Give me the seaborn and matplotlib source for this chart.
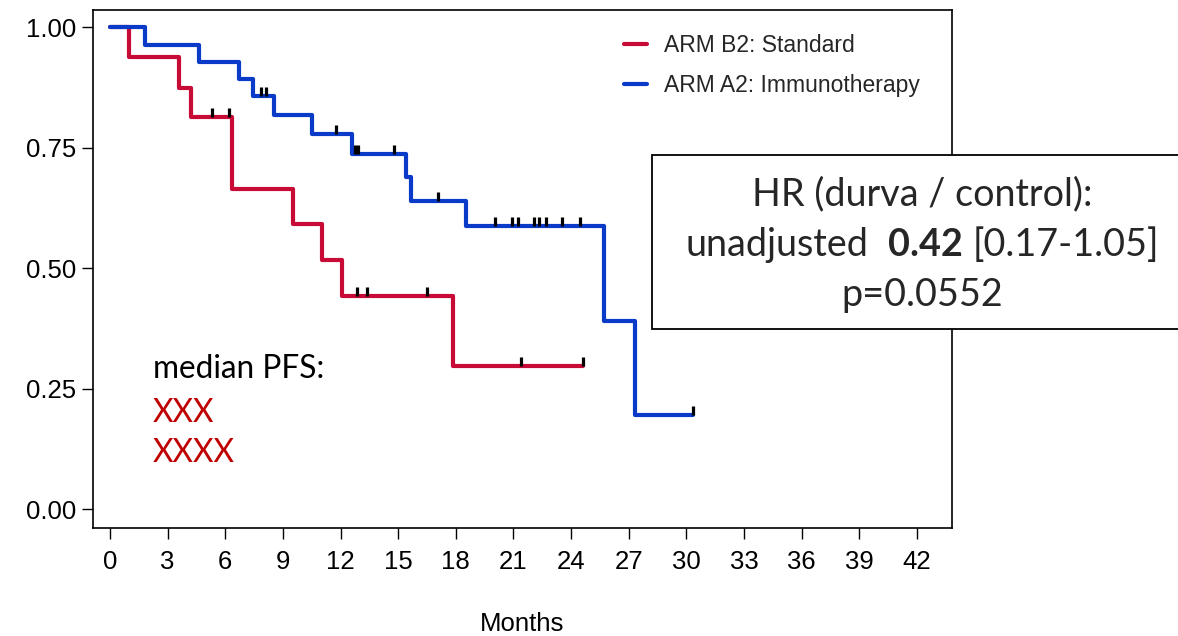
import numpy as np
import pandas as pd
import matplotlib
matplotlib.use("Agg")
import matplotlib.pyplot as plt
import seaborn as sns
from matplotlib.path import Path
from matplotlib.patches import Rectangle

# ---------------- data ----------------
arm_labels = ["ARM B2: Standard", "ARM A2: Immunotherapy"]

red_times = [0.0, 0.99, 3.59, 4.20, 6.34, 9.54, 11.02, 12.06, 17.84]
red_surv = [1.000, 0.938, 0.875, 0.813, 0.665, 0.591, 0.517, 0.443, 0.296]
red_end = 24.64
red_censor = [5.33, 6.21, 12.84, 13.36, 16.51, 21.40, 24.64]

blue_times = [0.0, 1.82, 4.63, 6.72, 7.46, 8.54, 10.50, 12.58, 15.41, 15.67,
              18.53, 25.73, 27.33]
blue_surv = [1.000, 0.964, 0.929, 0.893, 0.857, 0.818, 0.779, 0.738, 0.689,
             0.640, 0.587, 0.391, 0.196]
blue_end = 30.36
blue_censor = [7.84, 8.12, 11.76, 12.76, 12.92, 14.80, 17.09, 20.04, 20.91,
               21.25, 22.09, 22.34, 22.68, 23.51, 24.47, 30.36]

x_ticks = list(range(0, 43, 3))
y_ticks = [0.0, 0.25, 0.50, 0.75, 1.00]
y_tick_labels = ["0.00", "0.25", "0.50", "0.75", "1.00"]

hr_line1 = "HR (durva / control):"
hr_line2 = ["unadjusted", "0.42", "[0.17-1.05]"]
hr_line3 = "p=0.0552"
median_title = "median PFS:"
median_values = ["XXX", "XXXX"]

# ---------------- styling ----------------
RED = "#C80A37"
BLUE = "#0A3AC8"
TXT_RED = "#C00000"

sns.set_theme(style="ticks")
plt.rcParams["font.family"] = ["Liberation Sans", "DejaVu Sans"]

W, H = 1178, 636
fig = plt.figure(figsize=(W / 100, H / 100), dpi=100)
ax = fig.add_axes([93 / W, 1 - 528 / H, (952 - 93) / W, (528 - 10) / H])

# build step data frame
rows = []
for lab, t, s, end in [(arm_labels[0], red_times, red_surv, red_end),
                       (arm_labels[1], blue_times, blue_surv, blue_end)]:
    for ti, si in zip(t + [end], s + [s[-1]]):
        rows.append({"Months": ti, "Survival": si, "Arm": lab})
df = pd.DataFrame(rows)

sns.lineplot(data=df, x="Months", y="Survival", hue="Arm",
             hue_order=arm_labels, palette=[RED, BLUE],
             drawstyle="steps-post", estimator=None, sort=False,
             linewidth=3.0, ax=ax, legend=True)

# censor marks (short vertical ticks sitting on the curve)
tick_marker = Path([(0, 0), (0, 1)], [Path.MOVETO, Path.LINETO])
for t, s, cens in [(red_times, red_surv, red_censor),
                   (blue_times, blue_surv, blue_censor)]:
    idx = np.searchsorted(np.array(t), np.array(cens), side="right") - 1
    cy = np.array(s)[idx]
    ax.plot(cens, cy, linestyle="none", marker=tick_marker, markersize=13.5,
            markeredgewidth=2.3, color="black", zorder=5)

ax.set_xlim(-0.885, 43.83)
ax.set_ylim(-0.0394, 1.036)
ax.set_xticks(x_ticks)
ax.set_xticklabels([str(v) for v in x_ticks])
ax.set_yticks(y_ticks)
ax.set_yticklabels(y_tick_labels)
ax.tick_params(axis="both", which="major", length=8, width=1.0,
               color="black", labelsize=18.5, labelcolor="black",
               direction="out")
ax.tick_params(axis="x", pad=8)
ax.tick_params(axis="y", pad=4)
ax.set_xlabel("Months", fontsize=18.5, color="black", labelpad=27)
ax.set_ylabel("")
for sp in ax.spines.values():
    sp.set_visible(True)
    sp.set_color("black")
    sp.set_linewidth(1.2)

handles, labels = ax.get_legend_handles_labels()
leg = ax.legend(handles, labels, loc="upper left",
                bbox_to_anchor=(624 / W, 1 - 34 / H),
                bbox_transform=fig.transFigure, frameon=False,
                fontsize=16.5, handlelength=1.0, handletextpad=0.75,
                labelspacing=0.75, borderpad=0, borderaxespad=0)
for lh in leg.get_lines():
    lh.set_linewidth(3.0)

# ---------------- annotation text (Calibri-like) ----------------
ANN_FONT = ["Lato", "DejaVu Sans"]
renderer = fig.canvas.get_renderer()


def text_width(s, size, weight="normal"):
    t = fig.text(0, 0, s, fontsize=size, family=ANN_FONT, fontweight=weight)
    w = t.get_window_extent(renderer).width
    t.remove()
    return w


# median PFS block: fit width of title to reference (~172 px)
base = 20
ms = base * 172 / text_width(median_title, base)
ax.text(2.22, 0.271, median_title, fontsize=ms, family=ANN_FONT,
        color="black", va="baseline", ha="left")
ax.text(2.22, 0.181, median_values[0], fontsize=ms, family=ANN_FONT,
        color=TXT_RED, va="baseline", ha="left")
ax.text(2.22, 0.098, median_values[1], fontsize=ms, family=ANN_FONT,
        color=TXT_RED, va="baseline", ha="left")

# HR box
box = Rectangle((652 / W, 1 - 329 / H), (1200 - 652) / W, (329 - 155) / H,
                transform=fig.transFigure, facecolor="white",
                edgecolor="black", linewidth=1.3, clip_on=False, zorder=10)
ax.add_patch(box)

sp_w = text_width("a a", base) - text_width("aa", base)
w_parts = [text_width(hr_line2[0], base), text_width(hr_line2[1], base, "bold"),
           text_width(hr_line2[2], base)]
total = w_parts[0] + 2 * sp_w + w_parts[1] + sp_w + w_parts[2]
hs = base * 474 / total
scale = hs / base
cx = 922
x0 = cx - total * scale / 2
b1, b2, b3 = 205, 256, 306
fig.text(cx / W, 1 - b1 / H, hr_line1, fontsize=hs, family=ANN_FONT,
         ha="center", va="baseline", zorder=11)
xs = [x0,
      x0 + (w_parts[0] + 2 * sp_w) * scale,
      x0 + (w_parts[0] + 2 * sp_w + w_parts[1] + sp_w) * scale]
for xp, s, wgt in zip(xs, hr_line2, ["normal", "bold", "normal"]):
    fig.text(xp / W, 1 - b2 / H, s, fontsize=hs, family=ANN_FONT,
             fontweight=wgt, ha="left", va="baseline", zorder=11)
fig.text(cx / W, 1 - b3 / H, hr_line3, fontsize=hs, family=ANN_FONT,
         ha="center", va="baseline", zorder=11)

fig.savefig("out.png", dpi=100, facecolor="white")
